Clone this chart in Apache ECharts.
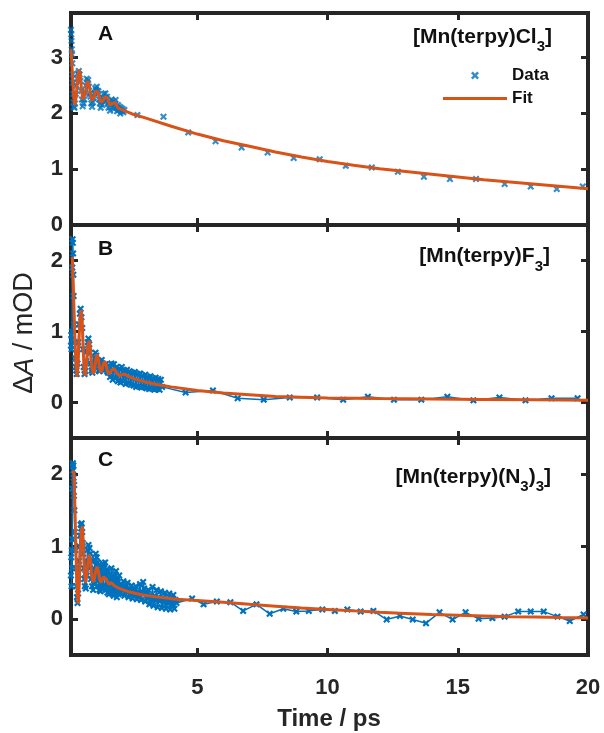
<!DOCTYPE html>
<html>
<head>
<meta charset="utf-8">
<script src="https://cdn.jsdelivr.net/npm/echarts@6/dist/echarts.min.js"></script>
<style>html,body{margin:0;padding:0;background:#fff;}#c{width:604px;height:733px;}</style>
</head>
<body>
<div id="c"></div>
<script>
// ---------- data ----------
const X_MIN = 0.15, X_MAX = 20;
const xTickLabels = [5, 10, 15, 20];
const xTicks = [5, 10, 15];
const yRangeA = [0, 3.8], yRangeBC = [-0.5, 2.5];
const yTicksA = [0, 1, 2, 3], yTicksBC = [0, 1, 2];
const panelLetters = ['A', 'B', 'C'];

const dataA = [[0.15,3.50],[0.16,3.42],[0.17,3.30],[0.18,3.15],[0.19,3.05],[0.20,2.90],[0.21,2.70],[0.22,2.55],[0.23,2.35],[0.24,2.20],[0.26,2.12],[0.28,2.10],[0.30,2.18],
[0.33,2.35],[0.36,2.50],[0.39,2.62],[0.42,2.72],[0.45,2.76],[0.48,2.70],[0.51,2.58],[0.54,2.40],[0.57,2.25],[0.60,2.13],
[0.63,2.18],[0.66,2.25],[0.69,2.38],[0.72,2.50],[0.75,2.62],[0.78,2.55],[0.81,2.60],[0.84,2.48],[0.87,2.35],[0.90,2.30],
[0.93,2.18],[0.96,2.12],[0.99,2.20],[1.02,2.28],[1.05,2.36],[1.08,2.45],[1.11,2.42],[1.14,2.48],[1.17,2.36],[1.20,2.40],
[1.23,2.25],[1.26,2.18],[1.29,2.10],[1.32,2.22],[1.35,2.15],[1.38,2.28],[1.41,2.35],[1.44,2.22],[1.47,2.36],[1.50,2.26],
[1.53,2.30],[1.56,2.18],[1.59,2.10],[1.62,2.20],[1.65,2.05],[1.68,2.16],[1.71,2.25],[1.74,2.12],[1.77,2.22],[1.80,2.08],
[1.83,2.18],[1.86,2.24],[1.89,2.10],[1.92,2.04],[1.95,2.15],[1.98,2.06],[2.01,2.12],[2.04,2.00],[2.07,2.10],[2.10,2.04],
[2.13,2.08],[2.16,2.02],[2.20,2.06],
[2.7,1.97],[3.7,1.94],[4.65,1.66],[5.7,1.50],[6.7,1.39],[7.7,1.30],[8.7,1.20],[9.7,1.18],[10.7,1.06],[11.7,1.03],
[12.7,0.955],[13.7,0.866],[14.7,0.825],[15.7,0.825],[16.8,0.735],[17.8,0.69],[18.8,0.646],[19.8,0.69]];

const fitA = [[0.15,3.15],[0.2,2.75],[0.25,2.3],[0.3,2.15],[0.35,2.3],[0.4,2.6],[0.45,2.78],[0.5,2.72],[0.55,2.45],[0.6,2.25],
[0.65,2.22],[0.7,2.35],[0.75,2.52],[0.8,2.58],[0.85,2.5],[0.9,2.35],[0.95,2.23],[1.0,2.22],[1.05,2.3],[1.1,2.4],[1.15,2.43],
[1.2,2.38],[1.25,2.27],[1.3,2.2],[1.35,2.19],[1.4,2.24],[1.45,2.3],[1.5,2.32],[1.55,2.28],[1.6,2.2],[1.65,2.15],[1.7,2.15],
[1.75,2.18],[1.8,2.21],[1.85,2.2],[1.9,2.15],[1.95,2.1],[2.0,2.08],[2.1,2.07],[2.2,2.05],[2.5,1.99],[3,1.92],[4,1.77],[5,1.63],
[6,1.51],[7,1.41],[8,1.31],[9,1.22],[10,1.14],[11,1.07],[12,1.01],[13,0.96],[14,0.91],[15,0.86],[16,0.81],[17,0.77],[18,0.73],
[19,0.69],[20,0.65]];

const dataB = [[0.15,0.80],[0.16,0.95],[0.17,0.75],[0.18,0.88],[0.19,1.00],[0.20,1.90],[0.21,2.30],[0.22,2.25],[0.23,2.10],[0.24,1.80],
[0.25,1.50],[0.27,1.10],[0.29,0.85],[0.31,0.62],[0.33,0.50],[0.35,0.45],[0.37,0.40],[0.40,0.55],[0.43,0.85],[0.46,1.10],[0.49,1.25],
[0.52,1.32],[0.55,1.20],[0.58,1.05],[0.61,0.75],[0.64,0.50],[0.67,0.40],[0.70,0.44],[0.73,0.58],[0.76,0.72],[0.79,0.85],[0.82,0.90],
[0.85,0.82],[0.88,0.70],[0.91,0.55],[0.94,0.45],[0.97,0.42],[1.00,0.48],[1.03,0.55],[1.06,0.62],[1.09,0.70],[1.12,0.66],[1.15,0.60],
[1.18,0.52],[1.21,0.45],[1.24,0.44],[1.27,0.50],[1.30,0.56],[1.33,0.60],[1.36,0.55],[1.39,0.48],[1.42,0.45],[1.45,0.50],[1.48,0.54],
[1.51,0.50],[1.54,0.44],[1.57,0.42],[1.60,0.52],[1.65,0.36],[1.70,0.55],[1.75,0.32],[1.80,0.54],[1.85,0.35],[1.90,0.50],[1.95,0.30],
[2.00,0.48],[2.05,0.28],[2.10,0.50],[2.15,0.30],[2.20,0.45],[2.25,0.26],[2.30,0.46],[2.35,0.27],[2.40,0.44],[2.45,0.25],[2.50,0.42],
[2.55,0.24],[2.60,0.43],[2.65,0.22],[2.70,0.40],[2.75,0.23],[2.80,0.41],[2.85,0.21],[2.90,0.38],[2.95,0.22],[3.00,0.39],[3.05,0.20],
[3.10,0.36],[3.15,0.19],[3.20,0.37],[3.25,0.20],[3.30,0.34],[3.35,0.18],[3.40,0.35],[3.45,0.19],[3.50,0.33],[3.55,0.18],[3.60,0.32],
[3.65,0.22],
[4.55,0.14],[5.6,0.17],[6.55,0.06],[7.55,0.04],[8.55,0.07],[9.6,0.07],[10.6,0.04],[11.55,0.08],[12.55,0.04],[13.6,0.04],[14.6,0.08],
[15.6,0.03],[16.6,0.07],[17.6,0.03],[18.6,0.06],[19.6,0.06]];

const fitB = [[0.2,2.05],[0.25,1.5],[0.3,0.9],[0.35,0.5],[0.38,0.36],[0.42,0.5],[0.46,0.9],[0.5,1.2],[0.54,1.3],[0.58,1.15],[0.62,0.75],
[0.66,0.42],[0.7,0.38],[0.75,0.55],[0.8,0.8],[0.85,0.87],[0.9,0.75],[0.95,0.5],[1.0,0.4],[1.05,0.45],[1.1,0.6],[1.15,0.68],[1.2,0.62],
[1.25,0.48],[1.3,0.42],[1.35,0.47],[1.4,0.55],[1.45,0.58],[1.5,0.53],[1.55,0.44],[1.6,0.4],[1.7,0.45],[1.8,0.48],[1.9,0.42],[2.0,0.38],
[2.2,0.4],[2.4,0.36],[2.6,0.33],[3.0,0.29],[3.5,0.25],[4.0,0.22],[5,0.17],[6,0.135],[7,0.11],[8,0.085],[10,0.065],[12,0.055],
[14,0.048],[16,0.042],[18,0.037],[20,0.033]];

const dataC = [[0.15,0.60],[0.16,0.85],[0.17,0.45],[0.18,0.95],[0.19,0.70],[0.20,1.10],[0.21,1.80],[0.22,2.15],[0.23,2.05],[0.24,2.12],
[0.25,1.95],[0.26,1.70],[0.27,1.85],[0.28,1.50],[0.30,1.20],[0.32,0.95],[0.34,0.70],[0.36,0.45],[0.38,0.30],[0.40,0.22],[0.42,0.35],
[0.44,0.55],[0.46,0.80],[0.48,1.00],[0.50,1.15],[0.52,1.30],[0.54,1.25],[0.56,1.32],[0.58,1.20],[0.60,1.05],[0.62,0.90],[0.64,0.70],
[0.66,0.55],[0.68,0.45],[0.70,0.62],[0.72,0.42],[0.74,0.80],[0.76,0.60],[0.78,0.95],[0.80,0.78],[0.82,1.02],[0.84,0.80],[0.86,0.98],
[0.88,0.70],[0.90,0.90],[0.92,0.55],[0.94,0.80],[0.96,0.45],[0.98,0.68],[1.00,0.40],[1.02,0.70],[1.04,0.48],[1.06,0.82],[1.08,0.58],
[1.10,0.90],[1.12,0.62],[1.14,0.85],[1.16,0.52],[1.18,0.78],[1.20,0.45],[1.22,0.74],[1.24,0.40],[1.26,0.68],[1.28,0.38],[1.30,0.66],
[1.32,0.42],[1.34,0.72],[1.36,0.45],[1.38,0.76],[1.40,0.44],[1.43,0.70],[1.46,0.78],[1.49,0.40],[1.52,0.68],[1.55,0.36],[1.58,0.66],
[1.61,0.34],[1.64,0.62],[1.67,0.40],[1.70,0.70],[1.73,0.35],[1.76,0.60],[1.79,0.32],[1.82,0.62],[1.85,0.38],[1.88,0.66],[1.91,0.30],
[1.94,0.56],[1.97,0.34],[2.00,0.60],[2.04,0.35],[2.08,0.48],[2.12,0.40],[2.16,0.52],[2.20,0.32],[2.24,0.45],[2.28,0.38],[2.32,0.50],
[2.36,0.30],[2.40,0.42],[2.44,0.35],[2.48,0.46],[2.52,0.28],[2.56,0.40],[2.60,0.33],[2.64,0.45],[2.68,0.27],[2.72,0.38],[2.76,0.30],
[2.80,0.48],[2.84,0.26],[2.88,0.36],[2.92,0.51],[2.96,0.42],[3.00,0.24],[3.04,0.35],[3.08,0.28],[3.12,0.40],[3.16,0.20],[3.20,0.33],
[3.24,0.26],[3.28,0.44],[3.32,0.18],[3.36,0.32],[3.40,0.25],[3.44,0.40],[3.48,0.16],[3.52,0.30],[3.56,0.24],[3.60,0.38],[3.64,0.15],
[3.68,0.29],[3.72,0.22],[3.76,0.36],[3.80,0.14],[3.84,0.28],[3.88,0.21],[3.92,0.35],[3.96,0.13],[4.00,0.27],[4.04,0.20],[4.08,0.33],
[4.12,0.14],[4.16,0.26],[4.20,0.22],
[4.8,0.28],[5.24,0.20],[5.75,0.24],[6.27,0.23],[6.76,0.11],[7.27,0.20],[7.78,0.07],[8.3,0.14],[8.8,0.10],[9.28,0.11],[9.8,0.13],
[10.28,0.11],[10.76,0.13],[11.27,0.10],[11.76,0.11],[12.27,-0.01],[12.78,0.04],[13.27,-0.01],[13.78,-0.06],[14.3,0.09],[14.8,-0.01],
[15.3,0.09],[15.8,0.0],[16.33,0.01],[16.8,0.03],[17.32,0.10],[17.8,0.10],[18.3,0.10],[18.83,0.03],[19.3,-0.03],[19.83,0.06]];

const fitC = [[0.22,2.05],[0.27,2.0],[0.31,1.4],[0.35,0.8],[0.39,0.35],[0.43,0.21],[0.47,0.5],[0.51,0.95],[0.55,1.22],[0.59,1.28],
[0.63,1.0],[0.67,0.65],[0.71,0.5],[0.75,0.58],[0.8,0.78],[0.85,0.89],[0.9,0.8],[0.95,0.6],[1.0,0.51],[1.05,0.56],[1.1,0.67],[1.15,0.72],
[1.2,0.66],[1.25,0.55],[1.3,0.5],[1.35,0.52],[1.4,0.58],[1.45,0.6],[1.5,0.55],[1.6,0.48],[1.7,0.5],[1.8,0.46],[2.0,0.42],[2.4,0.37],
[2.9,0.33],[3.5,0.3],[4.2,0.27],[5,0.255],[6,0.23],[7,0.20],[8,0.175],[9,0.15],[10,0.13],[11,0.11],[12,0.09],[13,0.075],[14,0.06],
[15,0.05],[16,0.04],[17,0.03],[18,0.025],[19,0.018],[20,0.012]];

// ---------- styling ----------
const FONT = 'Liberation Sans, Arial, Helvetica, sans-serif';
const INK = '#262626';
const BLUE = '#0072BD', ORANGE = '#D95319';
const X_ICON = 'path://M0,2.2L2.2,0L5,2.8L7.8,0L10,2.2L7.2,5L10,7.8L7.8,10L5,7.2L2.2,10L0,7.8L2.8,5Z';

const grids = [
  {left: 71, right: 16, top: 13, height: 212},
  {left: 71, right: 16, top: 225, height: 213},
  {left: 71, right: 16, top: 438, height: 217}
].map(g => Object.assign(g, {show: true, borderColor: INK, borderWidth: 4, backgroundColor: 'transparent', containLabel: false}));

const xAxes = [], yAxes = [];
for (let i = 0; i < 3; i++) {
  ['bottom', 'top'].forEach(pos => {
    xAxes.push({
      gridIndex: i, type: 'value', min: X_MIN, max: X_MAX, position: pos,
      axisLine: {show: false, onZero: false}, splitLine: {show: false},
      axisTick: {show: true, inside: true, length: 7, customValues: xTicks, lineStyle: {color: INK, width: 3}},
      axisLabel: {show: i === 2 && pos === 'bottom', customValues: xTickLabels, margin: 22,
        fontSize: 22, fontWeight: 'bold', color: INK, fontFamily: FONT}
    });
  });
  const rng = i === 0 ? yRangeA : yRangeBC;
  const tks = i === 0 ? yTicksA : yTicksBC;
  ['left', 'right'].forEach(pos => {
    yAxes.push({
      gridIndex: i, type: 'value', min: rng[0], max: rng[1], position: pos,
      axisLine: {show: false, onZero: false}, splitLine: {show: false},
      axisTick: {show: true, inside: true, length: 7, customValues: tks, lineStyle: {color: INK, width: 3}},
      axisLabel: {show: pos === 'left', customValues: tks, margin: 8,
        fontSize: 22, fontWeight: 'bold', color: INK, fontFamily: FONT}
    });
  });
}

function dataSeries(i, data, asLine) {
  const s = {
    name: 'Data', type: asLine ? 'line' : 'scatter', xAxisIndex: i * 2, yAxisIndex: i * 2,
    data: data, symbol: X_ICON, symbolSize: 7, itemStyle: {color: BLUE}, z: 3, silent: true
  };
  if (asLine) Object.assign(s, {showSymbol: true, showAllSymbol: true, lineStyle: {color: BLUE, width: 1.5}});
  return s;
}
function fitSeries(i, data) {
  return {name: 'Fit', type: 'line', xAxisIndex: i * 2, yAxisIndex: i * 2, data: data, showSymbol: false,
    itemStyle: {color: ORANGE}, lineStyle: {color: ORANGE, width: 3}, z: 4, silent: true};
}

const baseRich = (sz) => ({
  b: {fontSize: sz, fontWeight: 'bold', fontFamily: FONT, fill: '#111', verticalAlign: 'top'},
  s: {fontSize: 15, fontWeight: 'bold', fontFamily: FONT, fill: '#111', lineHeight: 28, verticalAlign: 'bottom'}
});

const letterY = [34, 249, 460];
const graphics = [];
panelLetters.forEach((L, i) => graphics.push({type: 'text', x: 98, y: letterY[i],
  style: {text: L, font: 'bold 21px ' + FONT, fill: '#111', align: 'left', verticalAlign: 'middle'}}));
graphics.push({type: 'text', x: 552, y: 40.5, style: {text: '{b|[Mn(terpy)Cl}{s|3}{b|]}', rich: baseRich(21), align: 'right', verticalAlign: 'middle'}});
graphics.push({type: 'text', x: 550, y: 260, style: {text: '{b|[Mn(terpy)F}{s|3}{b|]}', rich: baseRich(21), align: 'right', verticalAlign: 'middle'}});
graphics.push({type: 'text', x: 551, y: 480.5, style: {text: '{b|[Mn(terpy)(N}{s|3}{b|)}{s|3}{b|]}', rich: baseRich(21), align: 'right', verticalAlign: 'middle'}});
graphics.push({type: 'text', x: 25, y: 333, rotation: Math.PI / 2,
  style: {text: '{n|Δ}{i|A}{n| / mOD}', align: 'center', verticalAlign: 'middle',
    rich: {n: {fontSize: 27, fontFamily: FONT, fill: INK}, i: {fontSize: 27, fontStyle: 'italic', fontFamily: FONT, fill: INK}}}});
graphics.push({type: 'text', x: 329, y: 719,
  style: {text: 'Time / ps', font: 'bold 24px ' + FONT, fill: INK, align: 'center', verticalAlign: 'middle'}});

const chart = echarts.init(document.getElementById('c'), null, {renderer: 'canvas'});
chart.setOption({
  animation: false,
  backgroundColor: '#fff',
  grid: grids,
  xAxis: xAxes,
  yAxis: yAxes,
  legend: {
    left: 438, top: 62, orient: 'vertical', itemWidth: 64, itemHeight: 8, itemGap: 6, selectedMode: false,
    data: [{name: 'Data', icon: X_ICON}, {name: 'Fit', icon: 'path://M0,0H64V3H0Z'}],
    textStyle: {fontSize: 17, fontWeight: 'bold', fontFamily: FONT, color: '#111'}
  },
  graphic: graphics,
  series: [
    dataSeries(0, dataA, false), fitSeries(0, fitA),
    dataSeries(1, dataB, true), fitSeries(1, fitB),
    dataSeries(2, dataC, true), fitSeries(2, fitC)
  ]
});
</script>
</body>
</html>
